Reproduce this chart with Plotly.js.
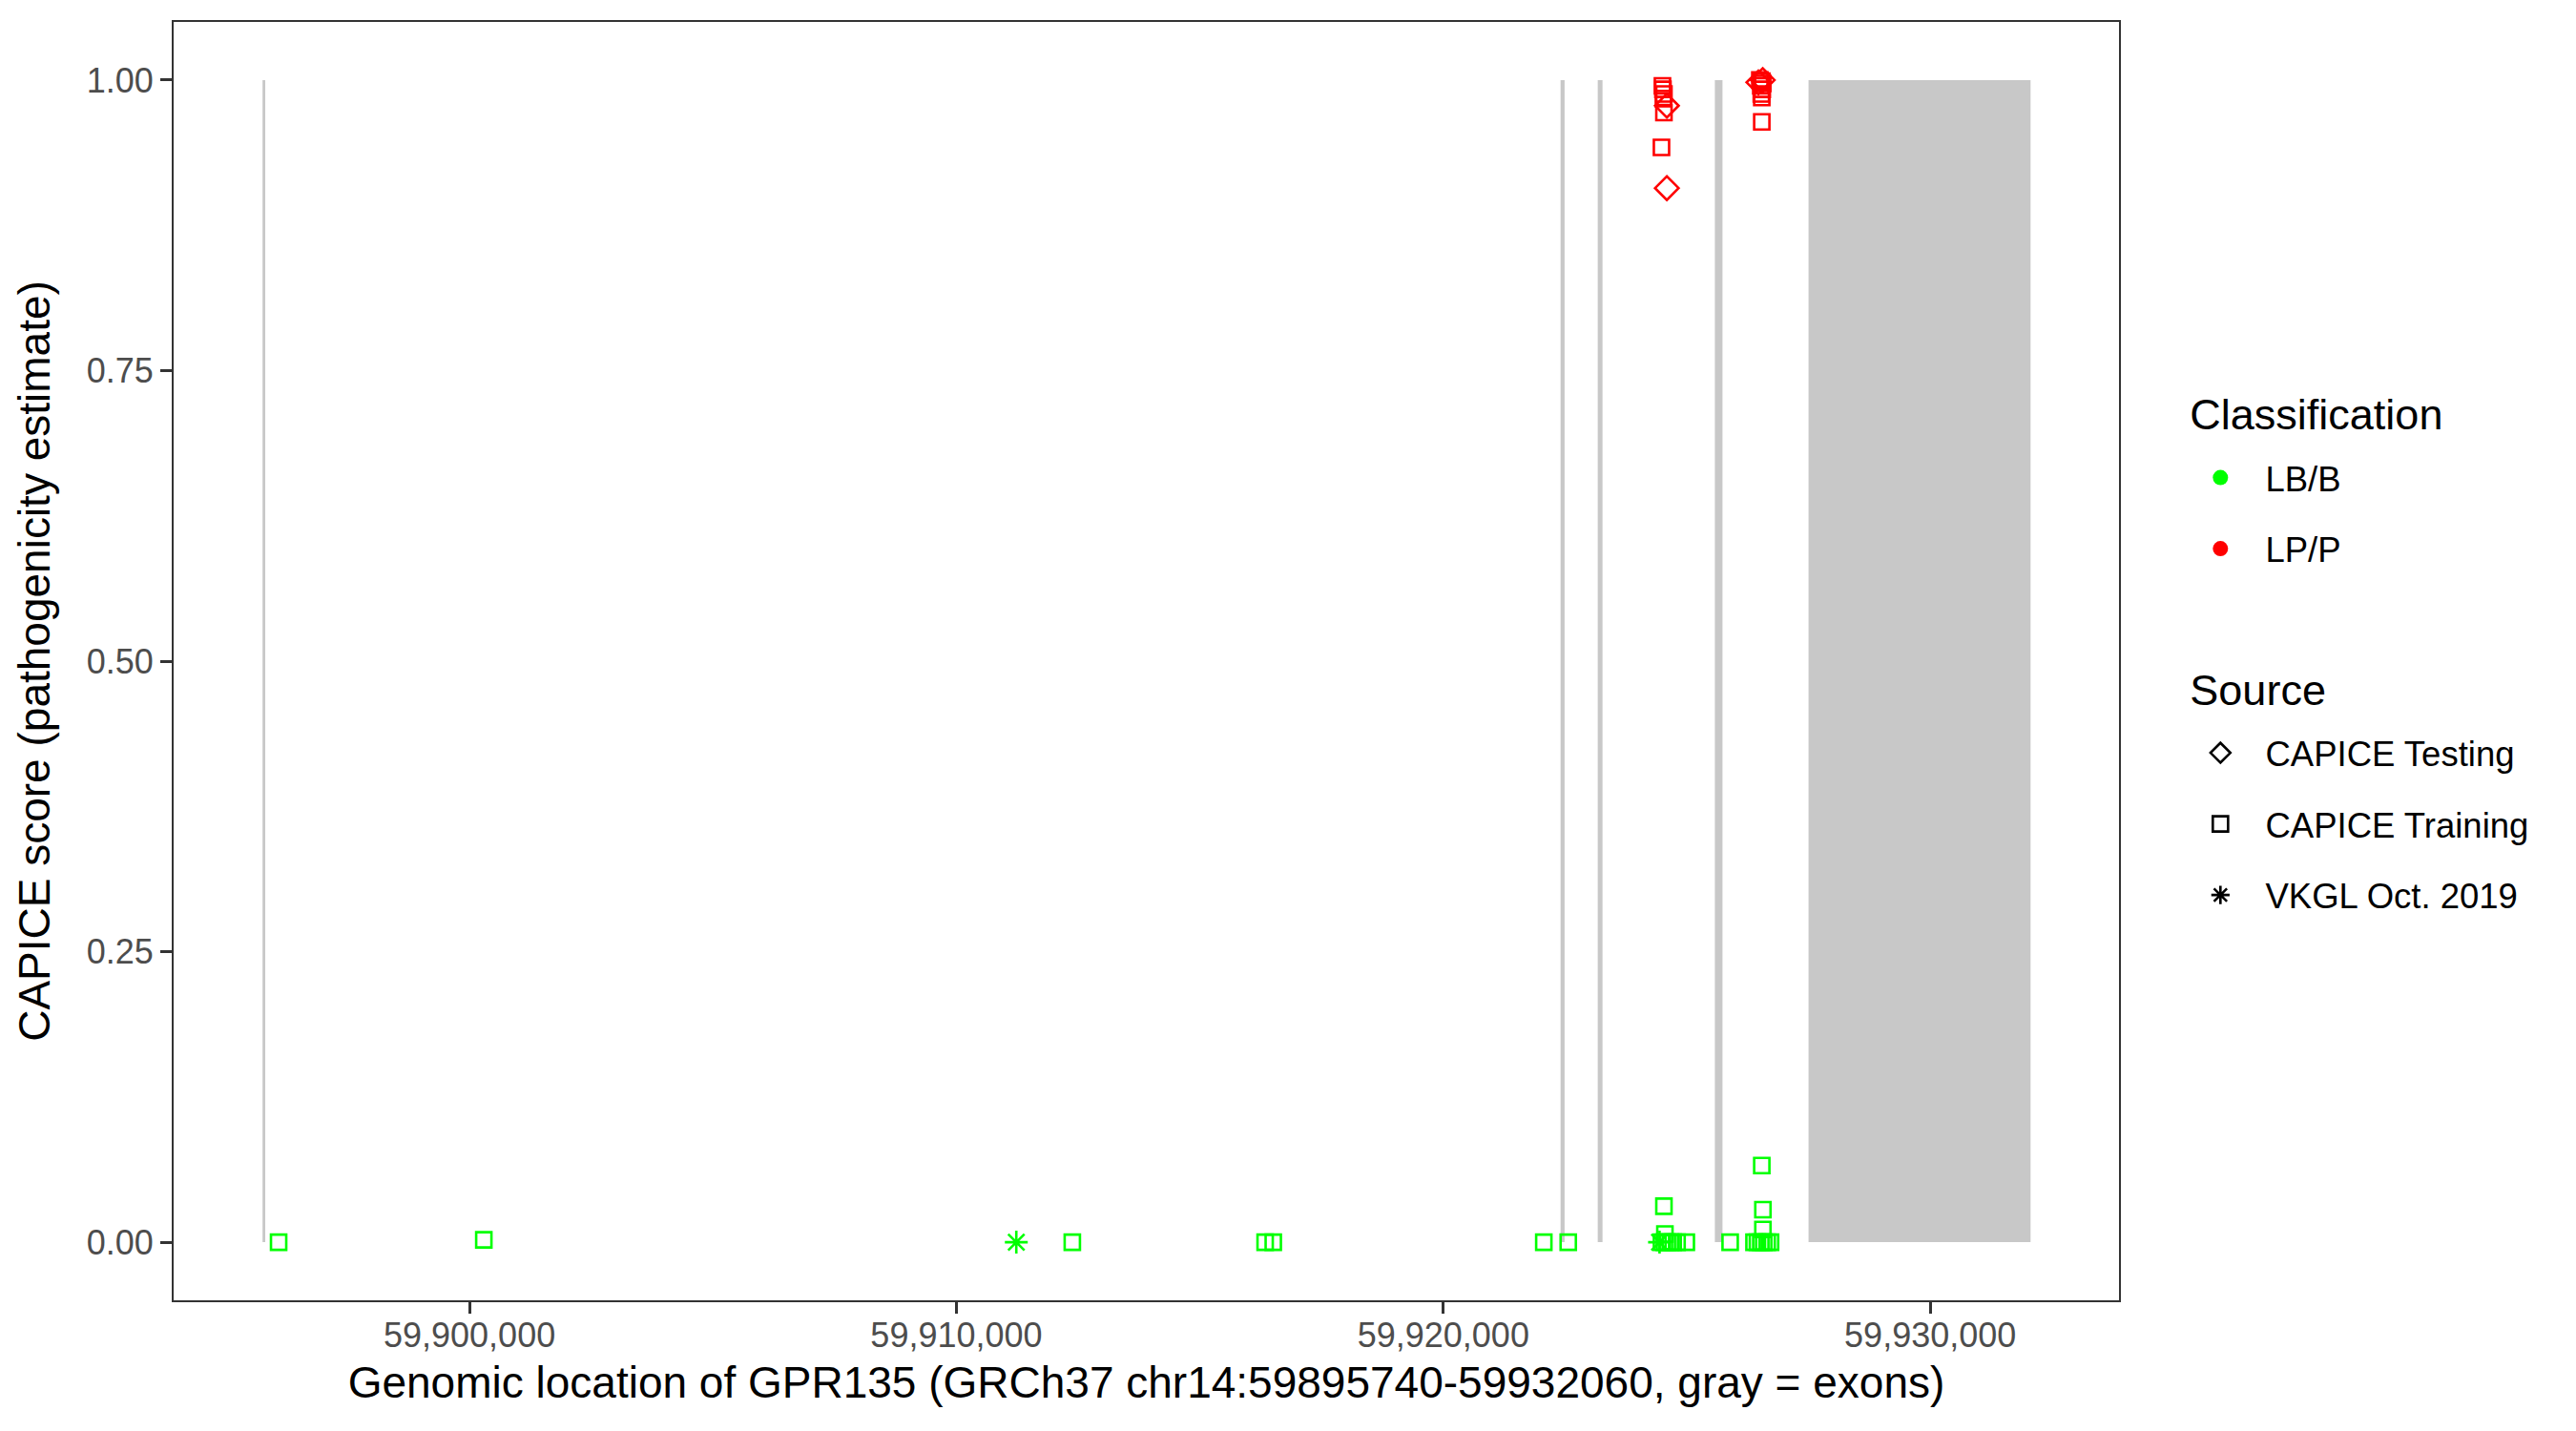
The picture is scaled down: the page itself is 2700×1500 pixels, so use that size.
<!DOCTYPE html>
<html><head><meta charset="utf-8">
<script src="https://cdn.plot.ly/plotly-3.0.1.min.js"></script>
<style>body{margin:0;background:#fff}</style>
</head><body><div id="chart" style="width:2700px;height:1500px"></div>
<script>
// Exons of GPR135 (gray rectangles, score 0 to 1)
const exonStart = [59895750, 59922407, 59923171, 59925576, 59927500];
const exonEnd   = [59895805, 59922490, 59923269, 59925733, 59932060];

// LB/B, CAPICE Training
const lbTrainPos = [59896080, 59900294, 59912380, 59916340, 59916507, 59922063, 59922565,
  59924480, 59924540, 59924600, 59924660, 59924720, 59924800, 59924990,
  59924550, 59924530, 59925890,
  59926380, 59926450, 59926520, 59926580, 59926650, 59926720,
  59926563, 59926563, 59926540];
const lbTrainScore = [0, 0.002, 0, 0, 0, 0, 0,
  0, 0, 0, 0, 0, 0, 0,
  0.007, 0.031, 0,
  0, 0, 0, 0, 0, 0,
  0.011, 0.028, 0.066];

// LB/B, VKGL Oct. 2019
const lbVkglPos = [59911230, 59924440];
const lbVkglScore = [0, 0];

// LP/P, CAPICE Training
const lpTrainPos = [59924500, 59924510, 59924530, 59924520, 59924530, 59924480,
  59926500, 59926540, 59926560, 59926520, 59926550, 59926530, 59926540, 59926540];
const lpTrainScore = [0.995, 0.992, 0.988, 0.984, 0.972, 0.942,
  1.0, 0.999, 0.997, 0.995, 0.992, 0.988, 0.985, 0.964];

// LP/P, CAPICE Testing
const lpTestPos = [59924590, 59924590, 59926470, 59926560];
const lpTestScore = [0.978, 0.907, 0.998, 1.0];

const classNames = ['LB/B', 'LP/P'];
const classColors = ['#00ff00', '#ff0000'];
const sourceNames = ['CAPICE Testing', 'CAPICE Training', 'VKGL Oct. 2019'];
const sourceSymbols = ['diamond-open', 'square-open', 'asterisk-open'];
const sourceSizes = [19, 16, 20];

const xTicks = [59900000, 59910000, 59920000, 59930000];
const yTicks = [0, 0.25, 0.5, 0.75, 1];

const FONT = 'Liberation Sans, Arial, Helvetica, sans-serif';
const NB = '\u00a0';

function dataTrace(x, y, cls, src) {
  return {
    type: 'scatter', mode: 'markers', x: x, y: y, showlegend: false, hoverinfo: 'x+y',
    marker: { symbol: sourceSymbols[src], size: sourceSizes[src], color: classColors[cls],
      line: { color: classColors[cls], width: 2.6 } }
  };
}

const traces = [
  dataTrace(lbTrainPos, lbTrainScore, 0, 1),
  dataTrace(lbVkglPos, lbVkglScore, 0, 2),
  dataTrace(lpTrainPos, lpTrainScore, 1, 1),
  dataTrace(lpTestPos, lpTestScore, 1, 0)
];

// legend label: visible text on the third of four lines, giving a taller legend row
function lbl(t) {
  return NB + '<br>' + NB + '<br><span style="font-size:36.5px">' + NB + t + '</span><br>' + NB;
}

classNames.forEach((n, i) => {
  traces.push({
    type: 'scatter', mode: 'markers', x: [null], y: [null], name: lbl(n),
    legendgroup: 'class', legendrank: 1 + i,
    legendgrouptitle: { text: 'Classification', font: { size: 45, color: '#000' } },
    marker: { symbol: 'circle', size: 16, color: classColors[i] }
  });
});
sourceNames.forEach((n, i) => {
  traces.push({
    type: 'scatter', mode: 'markers', x: [null], y: [null], name: lbl(n),
    legendgroup: 'source', legendrank: 10 + i,
    legendgrouptitle: { text: 'Source', font: { size: 45, color: '#000' } },
    marker: { symbol: sourceSymbols[i], size: 16, color: '#000', line: { color: '#000', width: 2.6 } }
  });
});

const shapes = exonStart.map((s, i) => ({
  type: 'rect', xref: 'x', yref: 'y', x0: s, x1: exonEnd[i], y0: 0, y1: 1,
  fillcolor: '#c8c8c8', line: { width: 0 }, layer: 'below'
}));

const layout = {
  width: 2700, height: 1500,
  paper_bgcolor: '#fff', plot_bgcolor: '#fff',
  margin: { l: 182, r: 479, t: 23, b: 137 },
  font: { family: FONT, color: '#000' },
  showlegend: true,
  shapes: shapes,
  xaxis: {
    range: [59893924, 59933876], tickvals: xTicks, tickformat: ',d',
    showgrid: false, zeroline: false,
    showline: true, mirror: true, linecolor: '#333333', linewidth: 2,
    ticks: 'outside', ticklen: 12, tickwidth: 3, tickcolor: '#333333',
    ticklabelstandoff: -8,
    tickfont: { size: 36, color: '#4d4d4d', family: FONT },
    title: { text: 'Genomic location of GPR135 (GRCh37 chr14:59895740-59932060, gray = exons)',
      font: { size: 46, color: '#000', family: FONT }, standoff: 14 },
    automargin: false
  },
  yaxis: {
    range: [-0.05, 1.05], tickvals: yTicks, tickformat: '.2f',
    showgrid: false, zeroline: false,
    showline: true, mirror: true, linecolor: '#333333', linewidth: 2,
    ticks: 'outside', ticklen: 12, tickwidth: 3, tickcolor: '#333333',
    tickfont: { size: 36, color: '#4d4d4d', family: FONT },
    title: { text: 'CAPICE score (pathogenicity estimate)',
      font: { size: 46, color: '#000', family: FONT }, standoff: 24 },
    automargin: false
  },
  legend: {
    x: 1.034, xanchor: 'left', y: 0.721, yanchor: 'top',
    traceorder: 'grouped', tracegroupgap: 78,
    font: { size: 13.75, family: FONT, color: '#000' },
    bgcolor: 'rgba(0,0,0,0)', borderwidth: 0, itemwidth: 64
  }
};

Plotly.newPlot('chart', traces, layout, { staticPlot: true });
</script></body></html>
